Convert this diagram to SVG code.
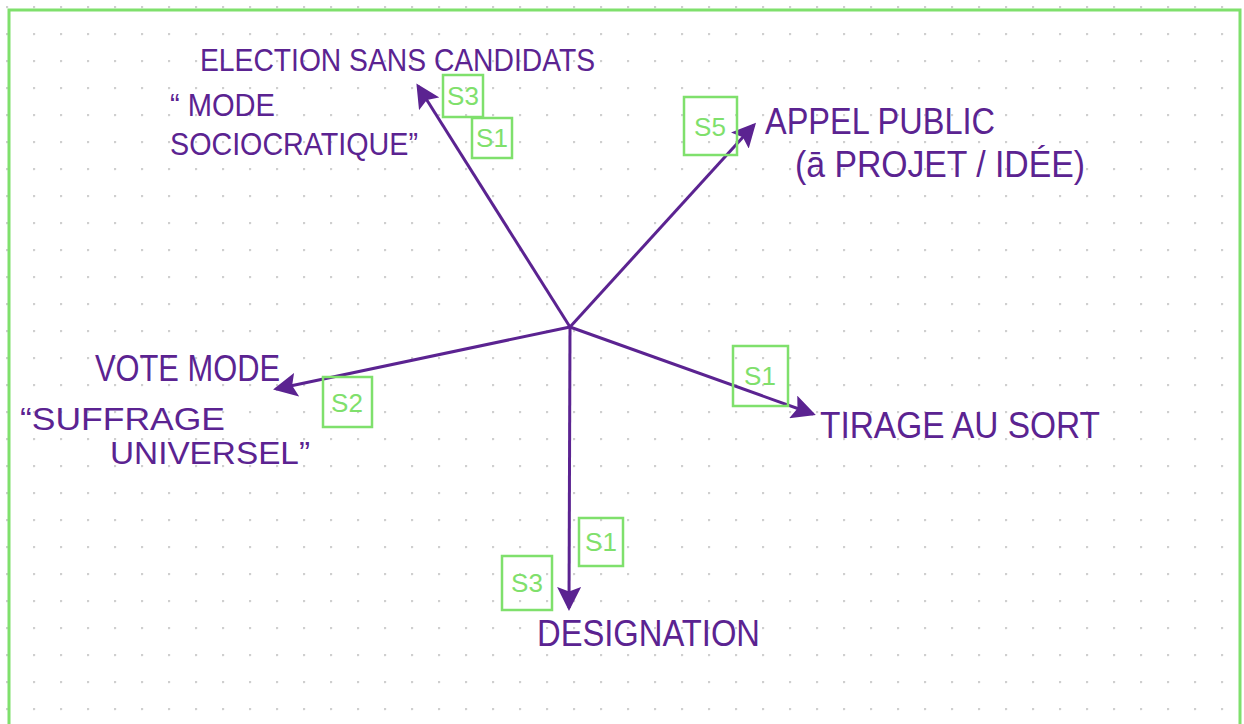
<svg xmlns="http://www.w3.org/2000/svg" width="1244" height="724" viewBox="0 0 1244 724">
<defs>
<pattern id="dots" x="6" y="6" width="27" height="27" patternUnits="userSpaceOnUse">
<circle cx="1" cy="1" r="1.3" fill="#cfcfcf"/>
</pattern>
<marker id="ah" markerWidth="8" markerHeight="8" refX="7" refY="4" orient="auto" markerUnits="strokeWidth">
<path d="M0,0 L8,4 L0,8 L1.5,4 Z" fill="#5b2391"/>
</marker>
<style>
.lbl{font-family:"Liberation Sans",Arial,sans-serif;font-size:36px;fill:#5b2391;}
.sm{font-size:32px;}
.tag rect{fill:none;stroke:#7fe06c;stroke-width:2.5;}
.tag text{font-family:"Liberation Sans",Arial,sans-serif;font-size:26px;fill:#7fe06c;text-anchor:middle;}
.conn{stroke:#5b2391;stroke-width:3;fill:none;marker-end:url(#ah);}
</style>
</defs>
<rect x="0" y="0" width="1244" height="724" fill="#ffffff"/>
<rect x="0" y="0" width="1244" height="724" fill="url(#dots)"/>
<path d="M9,730 L9,10 L1240,10 L1240,730" fill="none" stroke="#7fe06c" stroke-width="3"/>

<g id="connectors">
<line class="conn" x1="570" y1="327" x2="418" y2="86"/>
<line class="conn" x1="570" y1="327" x2="754" y2="125"/>
<line class="conn" x1="570" y1="327" x2="276" y2="389"/>
<line class="conn" x1="570" y1="327" x2="813" y2="414"/>
<line class="conn" x1="570" y1="327" x2="569" y2="608"/>
</g>

<g id="node-election">
<text class="lbl sm" x="200" y="71" textLength="395" lengthAdjust="spacingAndGlyphs">ELECTION SANS CANDIDATS</text>
<text class="lbl sm" x="170" y="116" textLength="105" lengthAdjust="spacingAndGlyphs">“ MODE</text>
<text class="lbl sm" x="170" y="155" textLength="248" lengthAdjust="spacingAndGlyphs">SOCIOCRATIQUE”</text>
</g>
<g id="tag-election-s3" class="tag"><rect x="443" y="75" width="40" height="42"/><text x="463" y="105">S3</text></g>
<g id="tag-election-s1" class="tag"><rect x="472" y="118" width="40" height="40"/><text x="492" y="147">S1</text></g>

<g id="node-appel">
<text class="lbl" x="765" y="134" textLength="230" lengthAdjust="spacingAndGlyphs">APPEL PUBLIC</text>
<text class="lbl" x="795" y="177" textLength="290" lengthAdjust="spacingAndGlyphs">(ā PROJET / IDÉE)</text>
</g>
<g id="tag-appel-s5" class="tag"><rect x="684" y="97" width="53" height="58"/><text x="710" y="136">S5</text></g>

<g id="node-vote">
<text class="lbl" x="95" y="381" textLength="185" lengthAdjust="spacingAndGlyphs">VOTE MODE</text>
<text class="lbl sm" x="20" y="430" textLength="205" lengthAdjust="spacingAndGlyphs">“SUFFRAGE</text>
<text class="lbl sm" x="110" y="464" textLength="200" lengthAdjust="spacingAndGlyphs">UNIVERSEL”</text>
</g>
<g id="tag-vote-s2" class="tag"><rect x="323" y="377" width="49" height="50"/><text x="347" y="412">S2</text></g>

<g id="node-tirage">
<text class="lbl" x="820" y="438" textLength="280" lengthAdjust="spacingAndGlyphs">TIRAGE AU SORT</text>
</g>
<g id="tag-tirage-s1" class="tag"><rect x="733" y="346" width="55" height="60"/><text x="760" y="385">S1</text></g>

<g id="node-designation">
<text class="lbl" x="537" y="646" textLength="223" lengthAdjust="spacingAndGlyphs">DESIGNATION</text>
</g>
<g id="tag-designation-s1" class="tag"><rect x="579" y="518" width="44" height="48"/><text x="601" y="551">S1</text></g>
<g id="tag-designation-s3" class="tag"><rect x="502" y="556" width="50" height="54"/><text x="527" y="592">S3</text></g>
</svg>
